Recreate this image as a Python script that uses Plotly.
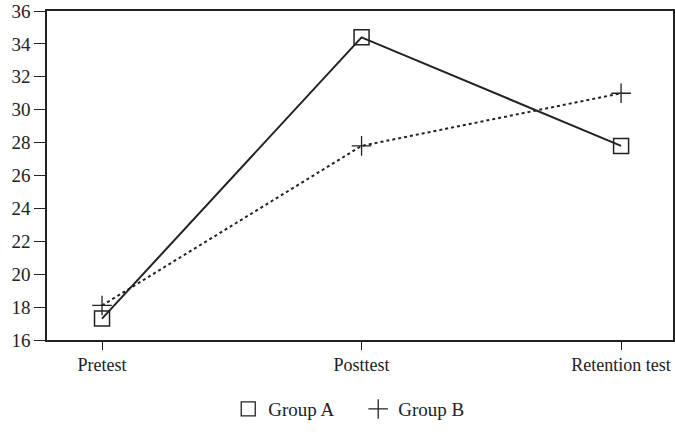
import plotly.graph_objects as go

categories = ["Pretest", "Posttest", "Retention test"]
group_a = [17.3, 34.4, 27.8]
group_b = [18.1, 27.8, 31.0]
y_ticks = [16, 18, 20, 22, 24, 26, 28, 30, 32, 34, 36]

fam = "Liberation Serif, Times New Roman, serif"
ink = "#222"

fig = go.Figure()
fig.add_trace(go.Scatter(
    x=categories, y=group_a, mode="lines+markers", name="Group A",
    line=dict(color=ink, width=2),
    marker=dict(symbol="square-open", size=15, color=ink, line=dict(width=1.5)),
    showlegend=False))
fig.add_trace(go.Scatter(
    x=categories, y=group_b, mode="lines+markers", name="Group B",
    line=dict(color=ink, width=2, dash="dot"),
    marker=dict(symbol="cross-thin-open", size=14, color=ink, line=dict(width=1.3, color=ink)),
    showlegend=False))
# legend entries (marker only)
fig.add_trace(go.Scatter(
    x=[None], y=[None], mode="markers", name="Group A" + "\u00a0" * 4,
    marker=dict(symbol="square-open", size=14, color=ink, line=dict(width=1.3))))
fig.add_trace(go.Scatter(
    x=[None], y=[None], mode="markers", name="Group B",
    marker=dict(symbol="cross-thin-open", size=14, color=ink, line=dict(width=1.3, color=ink))))

fig.update_layout(
    width=675, height=434,
    margin=dict(l=47, r=2, t=11, b=94),
    plot_bgcolor="white", paper_bgcolor="white",
    font=dict(family=fam, size=18, color=ink),
    legend=dict(orientation="h", x=0.482, xanchor="center", y=-0.21, yanchor="middle",
                font=dict(family=fam, size=19, color=ink), itemwidth=30),
    xaxis=dict(type="category", range=[-0.212, 2.2], showline=True, linecolor=ink,
               linewidth=1.5, mirror=True, ticks="outside", ticklen=8, tickcolor=ink,
               tickfont=dict(size=18), showgrid=False, zeroline=False, automargin=False),
    yaxis=dict(range=[16, 36], tickvals=y_ticks, showline=True, linecolor=ink,
               linewidth=1.5, mirror=True, ticks="outside", ticklen=11, tickcolor=ink,
               tickfont=dict(size=19), showgrid=False, zeroline=False, automargin=False),
)
fig.write_html("out.html", config={"displayModeBar": False},
               post_script="document.body.style.margin='0';document.body.style.overflow='hidden';")
